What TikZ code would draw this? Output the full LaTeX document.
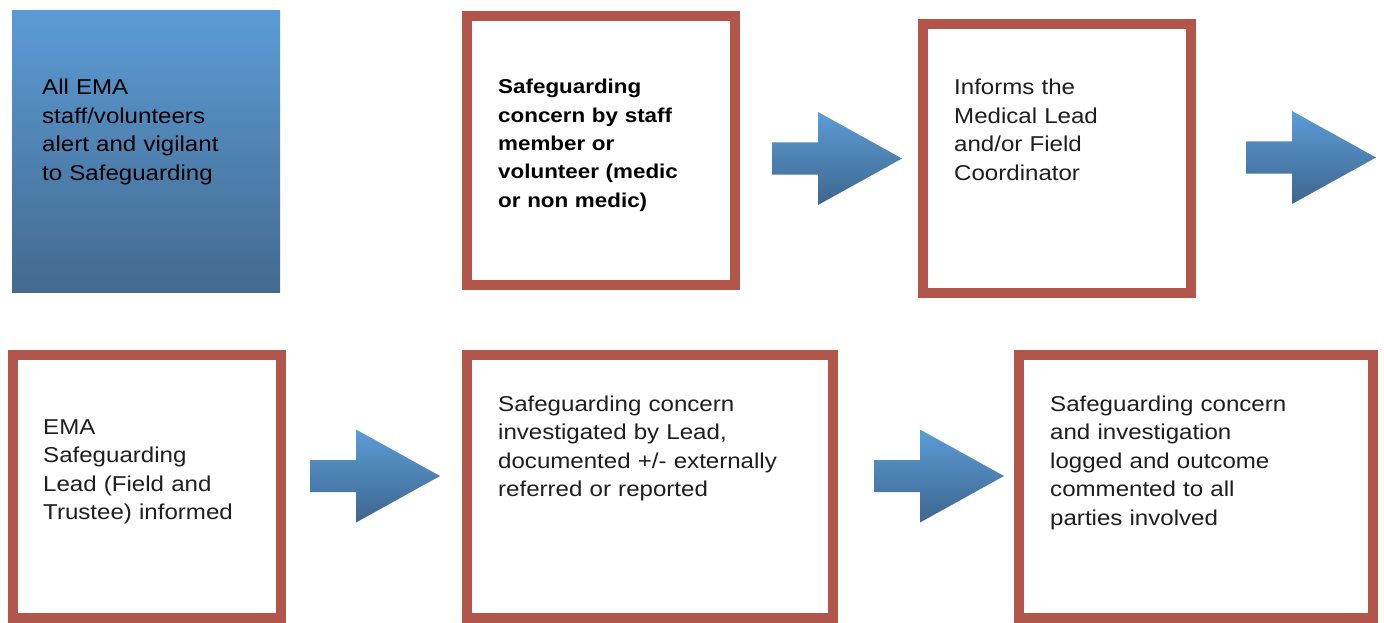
\documentclass[tikz,border=0pt]{standalone}
\usepackage{fontspec}
\setmainfont{Liberation Sans}[FakeStretch=1.12]
\definecolor{bord}{RGB}{178,85,74}
\definecolor{bluetop}{RGB}{91,155,213}
\definecolor{bluebot}{RGB}{67,106,142}
\definecolor{arrtop}{RGB}{92,156,214}
\definecolor{arrbot}{RGB}{62,102,142}
\definecolor{txtc}{RGB}{30,30,30}
\begin{document}
\begin{tikzpicture}[x=1pt,y=-1pt,
  rbox/.style={draw=bord, line width=10pt, fill=white, inner sep=0pt},
  bbox/.style={inner sep=0pt, top color=bluetop, bottom color=bluebot, draw=none},
  txt/.style={anchor=base west, inner sep=0pt, align=left, text width=330pt,
              font=\fontsize{21.5}{28.5}\selectfont, text=txtc},
  btxt/.style={txt, font=\fontsize{20}{28.3}\selectfont\bfseries},
  arrowfill/.style={top color=arrtop, bottom color=arrbot, draw=none},
  blockarrow/.pic={\shade[arrowfill] (0,-16) -- (46,-16) -- (46,-46.5) -- (130,0)
     -- (46,46.5) -- (46,16) -- (0,16) -- cycle;}
]
\useasboundingbox (0,0) rectangle (1384,623);
% row 1
\node[bbox, minimum width=268pt, minimum height=281pt] (b1) at (146,151.5) {};
\node[rbox, minimum width=268pt, minimum height=269pt] (b2) at (601,150.5) {};
\node[rbox, minimum width=268pt, minimum height=269pt] (b3) at (1057,158.5) {};
% row 2
\node[rbox, minimum width=268pt, minimum height=263pt] (b4) at (147,486.5) {};
\node[rbox, minimum width=366pt, minimum height=263pt] (b5) at (650,486.5) {};
\node[rbox, minimum width=354pt, minimum height=263pt] (b6) at (1196,486.5) {};
% arrows
\pic (a1) at (772,158.5) {blockarrow};
\pic (a2) at (1246,157.5) {blockarrow};
\pic (a3) at (310,476) {blockarrow};
\pic (a4) at (874,476) {blockarrow};
% texts
\node[txt, text=black] (t1) at (42,95) {All EMA\\staff/volunteers\\alert and vigilant\\to Safeguarding};
\node[btxt, text=black] (t2) at (498,94) {Safeguarding\\concern by staff\\member or\\volunteer (medic\\or non medic)};
\node[txt] (t3) at (954,95) {Informs the\\Medical Lead\\and/or Field\\Coordinator};
\node[txt] (t4) at (43,434) {EMA\\Safeguarding\\Lead (Field and\\Trustee) informed};
\node[txt] (t5) at (498,411) {Safeguarding concern\\investigated by Lead,\\documented +/- externally\\referred or reported};
\node[txt] (t6) at (1050,411) {Safeguarding concern\\and investigation\\logged and outcome\\commented to all\\parties involved};
\end{tikzpicture}
\end{document}
